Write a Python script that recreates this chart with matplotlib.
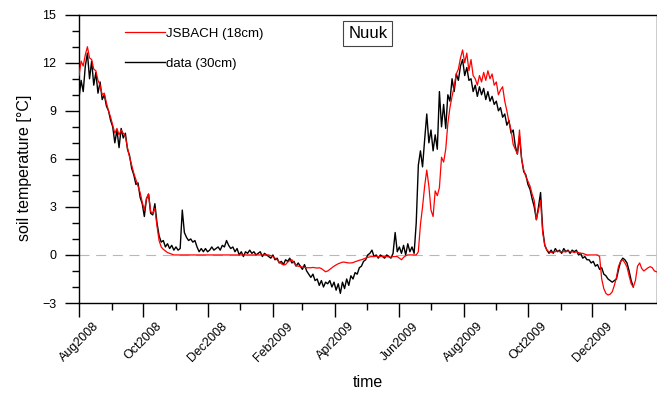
import pandas as pd
import matplotlib
matplotlib.use("Agg")
import matplotlib.pyplot as plt
import matplotlib.dates as mdates
from matplotlib.ticker import MultipleLocator

plt.rcParams['font.family'] = ['Liberation Sans', 'DejaVu Sans']

#==================== data (every 2 days from 1 Aug 2008) ====================
start_date = "2008-08-01"

# JSBACH soil temperature at 18 cm
jsbach_18cm = [
    11.2, 12.1, 11.8, 12.5, 13.0, 12.3, 12.2, 11.6, 11.5, 10.9,
    10.6, 10.0, 10.1, 9.5, 9.0, 8.6, 8.1, 7.6, 7.9, 7.5,
    7.8, 7.6, 7.4, 6.7, 6.1, 5.6, 5.1, 4.7, 4.3, 3.9,
    3.3, 2.8, 3.5, 3.8, 2.7, 2.6, 2.9, 1.8, 0.9, 0.5,
    0.35, 0.25, 0.15, 0.1, 0.05, 0.0, 0.0, 0.0, 0.0, 0.0,
    0.0, 0.0, 0.0, 0.0, 0.0, 0.0, 0.0, 0.0, 0.0, 0.0,
    0.0, 0.0, 0.0, 0.0, 0.0, 0.0, 0.0, 0.0, 0.0, 0.0,
    0.0, 0.0, 0.0, 0.0, 0.0, 0.0, 0.0, 0.0, 0.0, 0.0,
    0.0, 0.0, 0.0, 0.0, 0.0, 0.0, 0.0, 0.0, 0.0, 0.0,
    0.0, -0.05, -0.1, -0.2, -0.3, -0.45, -0.55, -0.62, -0.6, -0.45,
    -0.35, -0.3, -0.5, -0.65, -0.7, -0.73, -0.75, -0.78, -0.8, -0.8,
    -0.8, -0.78, -0.8, -0.82, -0.8, -0.85, -0.95, -1.05, -1.0, -0.9,
    -0.8, -0.7, -0.62, -0.55, -0.5, -0.45, -0.45, -0.48, -0.5, -0.5,
    -0.48, -0.42, -0.38, -0.33, -0.3, -0.25, -0.2, -0.15, -0.12, -0.1,
    -0.1, -0.08, -0.1, -0.1, -0.08, -0.1, -0.1, -0.12, -0.15, -0.1,
    -0.1, -0.1, -0.2, -0.3, -0.15, -0.05, 0.0, 0.0, 0.0, 0.0,
    0.0, 0.2, 1.9, 3.0, 4.3, 5.3, 4.3, 2.8, 2.4, 4.0,
    3.7, 4.2, 6.1, 5.8, 6.6, 8.2, 9.2, 9.9, 10.5, 11.3,
    11.6, 12.3, 12.8, 12.0, 12.6, 11.5, 12.2, 11.2, 11.0, 10.6,
    11.2, 10.8, 11.4, 10.9, 11.5, 11.0, 11.3, 10.6, 10.8, 10.0,
    10.3, 10.5, 9.6, 9.0, 8.3, 7.8, 6.9, 6.6, 6.3, 7.8,
    6.0, 5.3, 4.9, 4.6, 4.3, 3.8, 3.4, 2.2, 2.8, 3.4,
    1.4, 0.6, 0.3, 0.2, 0.15, 0.2, 0.2, 0.25, 0.2, 0.2,
    0.2, 0.2, 0.25, 0.2, 0.2, 0.15, 0.2, 0.15, 0.1, 0.1,
    0.05, 0.0, 0.0, 0.0, 0.0, 0.0, 0.0, -0.1, -1.5, -2.1,
    -2.4, -2.5, -2.45, -2.3, -1.9, -1.4, -0.7, -0.4, -0.3, -0.5,
    -0.75, -1.3, -1.8, -2.0, -1.6, -0.7, -0.5, -0.85, -1.0, -0.9,
    -0.8, -0.73, -0.8, -1.0, -1.05,
]

# measured soil temperature at 30 cm
data_30cm = [
    9.8, 10.9, 10.2, 11.8, 12.6, 11.0, 12.1, 10.6, 11.4, 10.1,
    10.8, 9.7, 10.0, 9.3, 9.0, 8.4, 8.0, 7.0, 7.8, 6.7,
    7.9, 7.3, 7.6, 6.6, 6.2, 5.4, 5.0, 4.4, 4.5, 3.6,
    3.2, 2.4, 3.5, 3.8, 2.6, 2.5, 3.2, 2.0, 1.2, 0.8,
    0.9, 0.5, 0.7, 0.4, 0.6, 0.3, 0.5, 0.3, 0.4, 2.8,
    1.4, 1.1, 0.9, 1.0, 0.8, 0.9, 0.5, 0.2, 0.4, 0.2,
    0.4, 0.2, 0.3, 0.5, 0.3, 0.4, 0.5, 0.3, 0.6, 0.5,
    0.9, 0.6, 0.4, 0.5, 0.2, 0.4, 0.0, 0.2, -0.1, 0.2,
    0.1, 0.3, 0.1, 0.2, 0.0, 0.1, 0.2, -0.1, 0.1, 0.0,
    -0.1, -0.2, 0.0, -0.3, -0.2, -0.5, -0.4, -0.6, -0.3, -0.4,
    -0.2, -0.5, -0.4, -0.7, -0.5, -0.7, -0.9, -0.6, -1.0, -1.2,
    -1.4, -1.2, -1.6, -1.5, -1.9, -1.6, -2.0, -1.7, -1.8, -1.6,
    -2.0, -1.7, -2.2, -1.8, -2.4, -1.7, -2.1, -1.5, -1.9, -1.3,
    -1.5, -1.1, -1.2, -0.8, -0.7, -0.4, -0.3, 0.0, 0.1, 0.3,
    -0.1, 0.0, -0.2, 0.0, -0.1, -0.2, 0.0, -0.1, -0.2, 0.1,
    1.4, 0.2, 0.5, 0.1, 0.6, 0.0, 0.7, 0.2, 0.5, 0.1,
    2.0, 5.6, 6.5, 5.5, 7.2, 8.8, 7.0, 7.8, 6.5, 7.5,
    6.6, 10.2, 8.0, 9.4, 7.9, 10.0, 9.6, 11.0, 10.2, 11.3,
    10.9, 11.8, 12.2, 11.2, 11.7, 10.9, 11.0, 10.2, 10.6, 9.9,
    10.5, 10.0, 10.4, 9.7, 10.2, 9.6, 9.9, 9.4, 9.6, 9.0,
    9.2, 8.6, 8.8, 8.1, 8.4, 7.6, 7.8, 6.8, 6.3, 7.4,
    6.0, 5.2, 5.0, 4.4, 4.1, 3.5, 3.0, 2.2, 3.0, 3.9,
    1.6, 0.6, 0.3, 0.1, 0.3, 0.1, 0.4, 0.2, 0.3, 0.1,
    0.4, 0.2, 0.3, 0.1, 0.3, 0.2, 0.3, 0.0, 0.1, -0.2,
    -0.1, -0.3, -0.3, -0.5, -0.4, -0.7, -0.6, -0.9, -0.8, -1.2,
    -1.3, -1.5, -1.6, -1.7, -1.6, -1.5, -0.9, -0.4, -0.2, -0.3,
    -0.5, -1.0, -1.6, -2.0,
]

t_model = pd.date_range(start_date, periods=len(jsbach_18cm), freq="2D")
t_obs = pd.date_range(start_date, periods=len(data_30cm), freq="2D")

#==================== plot ====================
fig = plt.figure(figsize=(6.57, 3.93), dpi=100)
ax = fig.add_axes([79/657, 90/393, 577.5/657, 288.3/393])

ax.axhline(0, color="#b8b8b8", lw=0.8, dashes=(9, 6), zorder=1)
ax.plot(t_obs, data_30cm, color="black", lw=1.0, label="data (30cm)", zorder=2)
ax.plot(t_model, jsbach_18cm, color="red", lw=0.9, label="JSBACH (18cm)", zorder=3)

ax.set_xlim(pd.Timestamp("2008-08-01"), pd.Timestamp("2010-01-31"))
ax.set_ylim(-3, 15)
ax.yaxis.set_major_locator(MultipleLocator(3))
ax.yaxis.set_minor_locator(MultipleLocator(1))
ax.xaxis.set_major_locator(mdates.MonthLocator(bymonth=[2, 4, 6, 8, 10, 12]))
ax.xaxis.set_minor_locator(mdates.MonthLocator())
ax.xaxis.set_major_formatter(mdates.DateFormatter("%b%Y"))

ax.tick_params(which="major", direction="out", length=10.4, width=1.0, labelsize=9)
ax.tick_params(which="minor", direction="out", length=5.2, width=1.0)
ax.tick_params(axis="y", pad=6)
ax.tick_params(axis="x", pad=2)
for lab in ax.get_xticklabels():
    lab.set_rotation(45)
    lab.set_ha("center")
for s in ax.spines.values():
    s.set_linewidth(1.0)

ax.set_xlabel("time", fontsize=11.5)
ax.set_ylabel("soil temperature [°C]", fontsize=11.5)
ax.xaxis.set_label_coords(0.5, -0.25)
ax.yaxis.set_label_coords(-0.082, 0.47)

handles, labels = ax.get_legend_handles_labels()
ax.legend(handles[::-1], labels[::-1], loc="upper left", bbox_to_anchor=(46/577, 0.955),
          frameon=False, fontsize=9.5, handlelength=3.0, handletextpad=0.1,
          labelspacing=1.33, borderpad=0, borderaxespad=0)

ax.text(0.5, 0.9355, "Nuuk", transform=ax.transAxes, ha="center", va="center", fontsize=12,
        bbox=dict(boxstyle="square,pad=0.3", fc="white", ec="#444444", lw=0.8))

fig.savefig("out.png", dpi=100)
